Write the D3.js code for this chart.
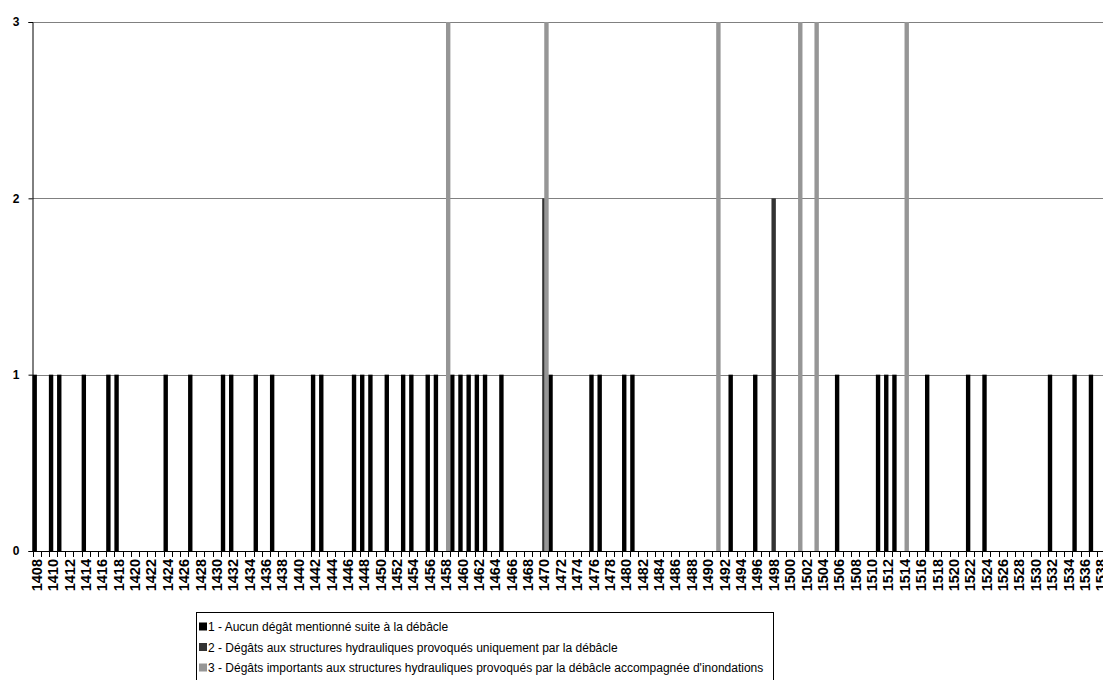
<!DOCTYPE html>
<html>
<head>
<meta charset="utf-8">
<script src="https://cdn.jsdelivr.net/npm/d3@7"></script>
<style>
  html, body { margin: 0; padding: 0; background: #ffffff; }
  svg { display: block; }
  text { font-family: Arial, "Liberation Sans", sans-serif; }
</style>
</head>
<body>
<svg id="chart" width="1103" height="680"></svg>
<script>
// ---- data ----
const years = [
  1408,1409,1410,1411,1412,1413,1414,1415,1416,1417,1418,1419,1420,1421,1422,1423,1424,1425,1426,1427,
  1428,1429,1430,1431,1432,1433,1434,1435,1436,1437,1438,1439,1440,1441,1442,1443,1444,1445,1446,1447,
  1448,1449,1450,1451,1452,1453,1454,1455,1456,1457,1458,1459,1460,1461,1462,1463,1464,1465,1466,1467,
  1468,1469,1470,1471,1472,1473,1474,1475,1476,1477,1478,1479,1480,1481,1482,1483,1484,1485,1486,1487,
  1488,1489,1490,1491,1492,1493,1494,1495,1496,1497,1498,1499,1500,1501,1502,1503,1504,1505,1506,1507,
  1508,1509,1510,1511,1512,1513,1514,1515,1516,1517,1518,1519,1520,1521,1522,1523,1524,1525,1526,1527,
  1528,1529,1530,1531,1532,1533,1534,1535,1536,1537,1538
];
// series 1: value 1 ("Aucun dégât")
const series1Years = [1408,1410,1411,1414,1417,1418,1424,1427,1431,1432,1435,1437,1442,1443,1447,1448,1449,
  1451,1453,1454,1456,1457,1459,1460,1461,1462,1463,1465,1471,1476,1477,1480,1481,1493,1496,1506,1511,1512,
  1513,1517,1522,1524,1532,1535,1537];
const series1Values = series1Years.map(() => 1);
// series 2: value 2
const series2Years = [1470, 1498];
const series2Values = [2, 2];
// series 3: value 3
const series3Years = [1458, 1470, 1491, 1501, 1503, 1514];
const series3Values = [3, 3, 3, 3, 3, 3];

const seriesNames = [
  "1 - Aucun dégât mentionné suite à la débâcle",
  "2 - Dégâts aux structures hydrauliques provoqués uniquement par la débâcle",
  "3 - Dégâts importants aux structures hydrauliques provoqués par la débâcle accompagnée d'inondations"
];
const seriesColors = ["#000000", "#333333", "#969696"];
const yTicks = [0, 1, 2, 3];

// ---- layout ----
const svg = d3.select("#chart");
const plotLeft = 32.5, catW = 8.188, plotTop = 22, plotBottom = 551;
const plotRight = plotLeft + catW * years.length;

const x = d3.scaleBand().domain(years).range([plotLeft, plotRight]).paddingInner(0).paddingOuter(0);
const y = d3.scaleLinear().domain([0, 3]).range([plotBottom, plotTop]);
const bw = x.bandwidth();
const sub = d3.scaleLinear().domain([0, 2]).range([0, bw / 2]); // series offset (50% overlap)

// gridlines
svg.append("g").selectAll("line").data(yTicks.filter(d => d > 0)).join("line")
  .attr("x1", plotLeft).attr("x2", plotRight)
  .attr("y1", d => Math.round(y(d)) + 0.5).attr("y2", d => Math.round(y(d)) + 0.5)
  .attr("stroke", "#808080").attr("stroke-width", 1);

// bars
const seriesData = [
  series1Years.map((yr, i) => ({ yr, v: series1Values[i], s: 0 })),
  series2Years.map((yr, i) => ({ yr, v: series2Values[i], s: 1 })),
  series3Years.map((yr, i) => ({ yr, v: series3Values[i], s: 2 }))
];
seriesData.forEach((arr, si) => {
  svg.append("g").selectAll("rect").data(arr).join("rect")
    .attr("x", d => x(d.yr) + sub(d.s))
    .attr("width", bw / 2 + 0.3)
    .attr("y", d => y(d.v))
    .attr("height", d => y(0) - y(d.v))
    .attr("fill", seriesColors[si]);
});

// y axis
const yAxis = d3.axisLeft(y).tickValues(yTicks).tickSize(4).tickPadding(9).tickFormat(d3.format("d"));
const gy = svg.append("g").attr("transform", `translate(${plotLeft},0)`).call(yAxis);
gy.select(".domain").attr("stroke", "#000");
gy.selectAll(".tick line").attr("stroke", "#000");
gy.selectAll(".tick text").attr("font-size", 12).attr("font-weight", "bold").attr("fill", "#000")
  .attr("font-family", "Arial, 'Liberation Sans', sans-serif");

// x axis: baseline + boundary ticks
svg.append("line").attr("x1", plotLeft).attr("x2", plotRight)
  .attr("y1", plotBottom + 0.5).attr("y2", plotBottom + 0.5).attr("stroke", "#000");
const boundaries = years.map(yr => x(yr)).concat([plotRight]);
svg.append("g").selectAll("line").data(boundaries).join("line")
  .attr("x1", d => Math.round(d) + 0.5).attr("x2", d => Math.round(d) + 0.5)
  .attr("y1", plotBottom).attr("y2", plotBottom + 6)
  .attr("stroke", "#000");

// x labels (every 2nd year)
const xAxis = d3.axisBottom(x).tickValues(years.filter((d, i) => i % 2 === 0)).tickSize(0).tickPadding(0);
const gx = svg.append("g").attr("transform", `translate(0,${plotBottom})`).call(xAxis);
gx.select(".domain").remove();
gx.selectAll(".tick text")
  .attr("font-size", 14.5).attr("font-weight", "bold").attr("fill", "#000")
  .attr("font-family", "Arial, 'Liberation Sans', sans-serif")
  .attr("text-anchor", "end")
  .attr("transform", "rotate(-90)")
  .attr("x", -8).attr("y", 0).attr("dy", "0.36em");

// legend
const lg = svg.append("g");
lg.append("rect").attr("x", 196.5).attr("y", 612.5).attr("width", 577).attr("height", 80)
  .attr("fill", "none").attr("stroke", "#000");
seriesNames.forEach((name, i) => {
  const yy = 627 + i * 20.5;
  lg.append("rect").attr("x", 199).attr("y", yy - 4.5).attr("width", 8).attr("height", 8).attr("fill", seriesColors[i]);
  lg.append("text").attr("x", 208).attr("y", yy).attr("dy", "0.35em")
    .attr("font-size", 12).attr("fill", "#000").text(name);
});
</script>
</body>
</html>
